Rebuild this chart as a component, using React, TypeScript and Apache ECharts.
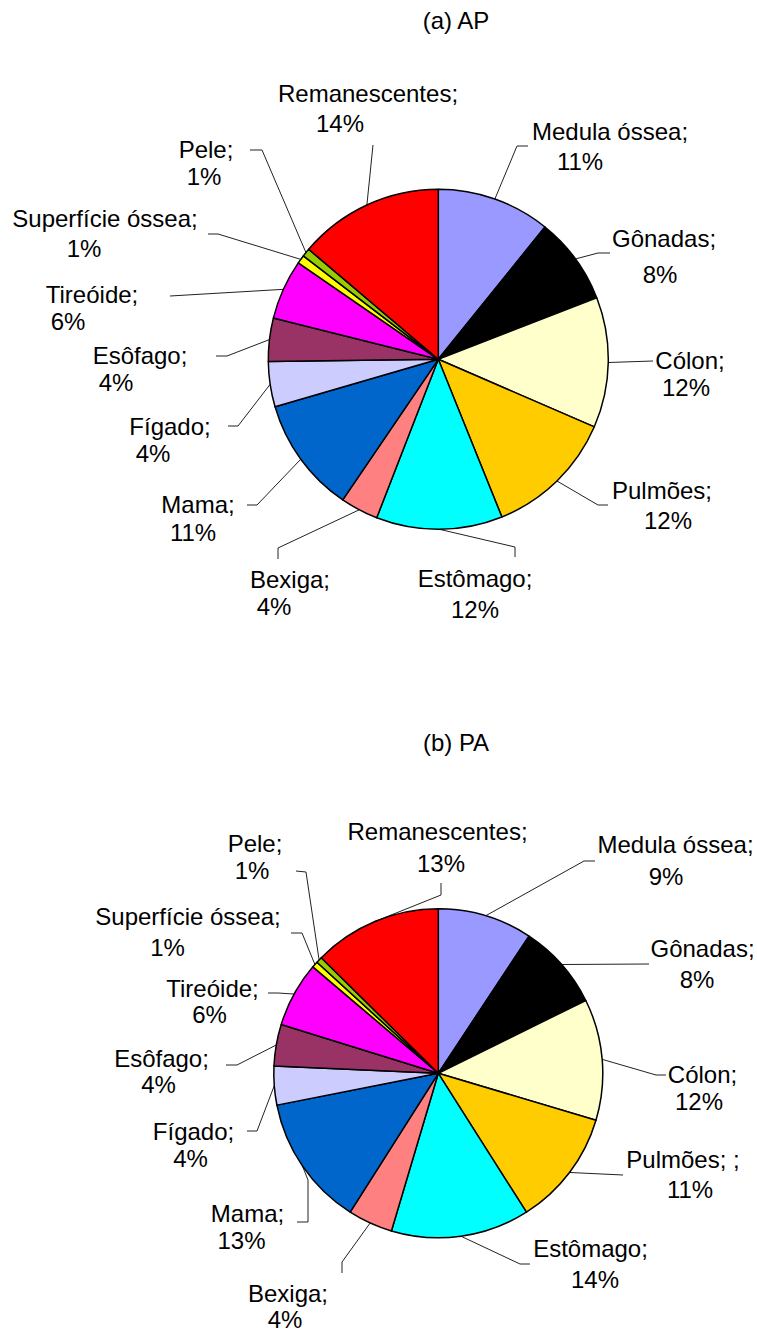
import React, { useEffect, useRef } from "react";
import * as echarts from "echarts";

// ---- data ----
const organsAP = [
  "Medula óssea", "Gônadas", "Cólon", "Pulmões", "Estômago", "Bexiga", "Mama",
  "Fígado", "Esôfago", "Tireóide", "Superfície óssea", "Pele", "Remanescentes",
];
const organsPA = [
  "Medula óssea", "Gônadas", "Cólon", "Pulmões; ", "Estômago", "Bexiga", "Mama",
  "Fígado", "Esôfago", "Tireóide", "Superfície óssea", "Pele", "Remanescentes",
];
// percent of effective dose (slices as drawn; labels round them)
const valuesAP = [10.8, 8.3, 12.4, 12.4, 12.0, 3.6, 11.0, 4.3, 4.1, 5.7, 0.8, 0.8, 13.8];
const valuesPA = [9.3, 8.4, 11.9, 11.4, 13.6, 4.4, 12.9, 3.8, 4.1, 6.4, 0.6, 0.6, 12.6];
const titles = ["(a) AP", "(b) PA"];

// ---- styles ----
const colors = [
  "#9999FF", "#000000", "#FFFFCC", "#FFCC00", "#00FFFF", "#FF8080", "#0066CC",
  "#CCCCFF", "#993366", "#FF00FF", "#FFFF00", "#99CC00", "#FF0000",
];
const FONT = "'Liberation Sans', Arial, Helvetica, sans-serif";
const FS = 24;
const BASE = 8.3; // baseline offset below text centre
const L1 = 26;

// label placement: [line1 centre x, line1 baseline, line2 centre x, line2 baseline]
const labelPosAP = [
  [610, 140, 580, 170],
  [664, 247, 660, 283],
  [690, 369, 686, 396],
  [662, 499, 668, 529],
  [475, 587, 475, 618],
  [290, 588, 274, 615],
  [198, 513, 193, 541],
  [170, 435, 153, 462],
  [140, 364, 116, 391],
  [92, 303, 68, 330],
  [105, 227, 84, 257],
  [206, 158, 204, 185],
  [368, 102, 340, 132],
];
const leaderAP = [
  [[517, 146], [528, 146]],
  [[598, 253], [610, 253]],
  [[653, 361]],
  [[598, 505], [608, 505]],
  [[515, 547], [515, 557]],
  [[278, 548], [278, 559]],
  [[257, 505], [247, 505]],
  [[238, 426], [228, 426]],
  [[227, 356], [216, 356]],
  [[170, 296]],
  [[218, 234], [208, 234]],
  [[262, 150], [250, 150]],
  [[373, 145]],
];
const labelPosPA = [
  [675.5, 853, 666, 885],
  [702.5, 957, 697, 988],
  [702.5, 1083, 699, 1110],
  [683, 1168, 690, 1198],
  [590.5, 1257, 595, 1288],
  [288, 1302, 285, 1328],
  [247.5, 1222, 241.5, 1249],
  [193.5, 1140, 190.5, 1167],
  [161.5, 1067, 158.5, 1093],
  [212.5, 997, 209.5, 1023],
  [188, 925, 167.5, 956],
  [255, 852, 252, 879],
  [437.5, 840, 441, 872],
];
const leaderPA = [
  [[584, 861], [595, 861]],
  [[649, 964]],
  [[656, 1075], [666, 1075]],
  [[623, 1175]],
  [[520, 1264], [530, 1264]],
  [[342, 1262], [342, 1273]],
  [[308, 1180], [308, 1222], [297, 1222]],
  [[257, 1131], [247, 1131]],
  [[237, 1065], [226, 1065]],
  [[278, 993], [268, 993]],
  [[302, 933], [291, 933]],
  [[306, 872], [296, 871]],
  [[441, 895], [441, 883]],
];

function makeData(names: string[], values: number[], pos: number[][]) {
  return names.map((name, i) => {
    const [cx1, b1, cx2, b2] = pos[i];
    const L2 = 2 * (b2 - b1) - L1;
    const shift = cx2 - cx1;
    return {
      name,
      value: values[i],
      itemStyle: { color: colors[i] },
      label: {
        rich: {
          a: { lineHeight: L1 },
          b: {
            lineHeight: L2,
            padding: shift < 0 ? [0, -2 * shift, 0, 0] : [0, 0, 0, 2 * shift],
          },
        },
      },
    };
  });
}

function makeSeries(
  names: string[],
  values: number[],
  pos: number[][],
  leader: number[][][],
  center: number[],
  radius: number
) {
  return {
    type: "pie",
    center,
    radius,
    startAngle: 90,
    clockwise: true,
    avoidLabelOverlap: false,
    emphasis: { disabled: true },
    itemStyle: { borderColor: "#000", borderWidth: 1.5 },
    label: {
      show: true,
      position: "outside",
      color: "#000",
      fontFamily: FONT,
      fontSize: FS,
      formatter: (p: any) => `{a|${p.name};}\n{b|${Math.round(p.percent)}%}`,
      rich: {
        a: { fontFamily: FONT, fontSize: FS, color: "#000", align: "center" },
        b: { fontFamily: FONT, fontSize: FS, color: "#000", align: "center" },
      },
    },
    labelLine: { show: true, lineStyle: { color: "#222", width: 1 } },
    labelLayout: (p: any) => {
      const [cx1, b1] = pos[p.dataIndex];
      const start = p.labelLinePoints ? p.labelLinePoints[0] : leader[p.dataIndex][0];
      const pts = [start, ...leader[p.dataIndex]];
      while (pts.length < 3) pts.push(pts[pts.length - 1]);
      return {
        x: cx1,
        y: b1 - BASE - L1 / 2,
        align: "center",
        verticalAlign: "top",
        labelLinePoints: pts,
      };
    },
    data: makeData(names, values, pos),
  };
}

export default function App() {
  const ref = useRef<HTMLDivElement>(null);
  useEffect(() => {
    if (!ref.current) return;
    const chart = echarts.init(ref.current, null, { renderer: "svg" });
    chart.setOption({
      animation: false,
      backgroundColor: "#fff",
      graphic: [
        {
          type: "text",
          x: 456,
          y: 20,
          style: {
            text: titles[0], fontSize: FS, fontFamily: FONT, fill: "#000",
            textAlign: "center", textVerticalAlign: "middle", verticalAlign: "middle",
          },
        },
        {
          type: "text",
          x: 456,
          y: 742,
          style: {
            text: titles[1], fontSize: FS, fontFamily: FONT, fill: "#000",
            textAlign: "center", textVerticalAlign: "middle", verticalAlign: "middle",
          },
        },
      ],
      series: [
        makeSeries(organsAP, valuesAP, labelPosAP, leaderAP, [438.3, 359.3], 170),
        makeSeries(organsPA, valuesPA, labelPosPA, leaderPA, [438.3, 1073.3], 164.5),
      ],
    });
    return () => chart.dispose();
  }, []);
  return (
    <div
      ref={ref}
      style={{ position: "absolute", left: 0, top: 0, width: 757, height: 1333 }}
    />
  );
}
